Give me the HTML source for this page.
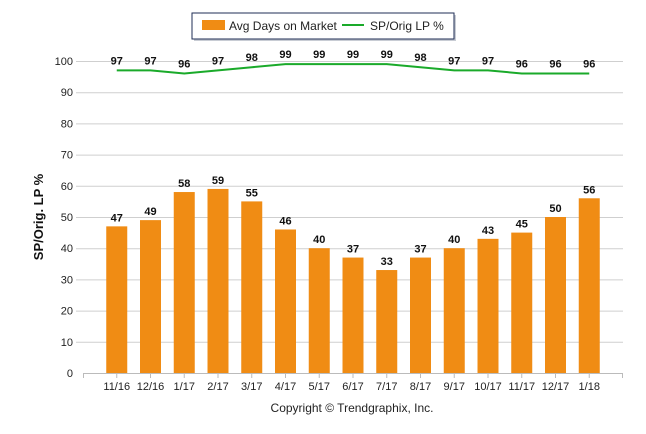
<!DOCTYPE html>
<html><head><meta charset="utf-8"><style>
html,body{margin:0;padding:0;background:#fff;}
svg{display:block;font-family:"Liberation Sans",sans-serif;}
</style></head><body>
<svg width="646" height="434" viewBox="0 0 646 434" xmlns="http://www.w3.org/2000/svg">
<rect x="194" y="15" width="262" height="26" fill="#c8ccd4"/>
<rect x="192" y="13" width="262" height="26" fill="#fff" stroke="#1f2e55" stroke-width="1"/>
<rect x="202" y="20" width="23" height="10" fill="#f08c14"/>
<text x="229" y="30" font-size="12" fill="#222">Avg Days on Market</text>
<line x1="342" y1="25" x2="364" y2="25" stroke="#1aaa2a" stroke-width="2"/>
<text x="370" y="30" font-size="12" fill="#222">SP/Orig LP %</text>
<g id="grid" stroke="#cfcfcf" stroke-width="1"></g>
<g id="ylab" font-size="11" fill="#222" text-anchor="end"></g>
<text transform="translate(43,217) rotate(-90)" font-size="13" font-weight="bold" text-anchor="middle" fill="#111">SP/Orig. LP %</text>
<g id="bars"></g>
<line x1="83" y1="373.5" x2="623" y2="373.5" stroke="#bbb"/>
<g id="xt" stroke="#bbb"></g>
<g id="xl" font-size="11" fill="#222" text-anchor="middle"></g>
<polyline id="ln" fill="none" stroke="#1aaa2a" stroke-width="2"/>
<g id="lnl" font-size="11" font-weight="bold" fill="#111" text-anchor="middle"></g>
<g id="bl" font-size="11" font-weight="bold" fill="#111" text-anchor="middle"></g>
<text x="352" y="412" font-size="12" fill="#222" text-anchor="middle">Copyright © Trendgraphix, Inc.</text>
<script>
var ns="http://www.w3.org/2000/svg";
function el(p,t,a,txt){var e=document.createElementNS(ns,t);for(var k in a)e.setAttribute(k,a[k]);if(txt!=null)e.textContent=txt;document.getElementById(p).appendChild(e);}
function Y(v){return 373-v*3.12;}
for(var v=10;v<=100;v+=10){el("grid","line",{x1:76,x2:623,y1:Y(v)+.5,y2:Y(v)+.5});}
for(var v=0;v<=100;v+=10){el("ylab","text",{x:73,y:Y(v)+4},v);}
var labs=["11/16","12/16","1/17","2/17","3/17","4/17","5/17","6/17","7/17","8/17","9/17","10/17","11/17","12/17","1/18"];
var bars=[47,49,58,59,55,46,40,37,33,37,40,43,45,50,56];
var ln=[97,97,96,97,98,99,99,99,99,98,97,97,96,96,96];
var pts=[];
el("xt","line",{x1:83.5,x2:83.5,y1:373,y2:378});
for(var i=0;i<15;i++){var c=83+33.75*(i+1);
el("bars","rect",{x:c-10.5,y:Y(bars[i]),width:21,height:bars[i]*3.12,fill:"#f08c14"});
el("xt","line",{x1:c,x2:c,y1:373,y2:378});
el("xl","text",{x:c,y:390},labs[i]);
el("bl","text",{x:c,y:Y(bars[i])-5},bars[i]);
pts.push(c+","+Y(ln[i]));
el("lnl","text",{x:c,y:Y(ln[i])-6},ln[i]);}
el("xt","line",{x1:622.5,x2:622.5,y1:373,y2:378});
document.getElementById("ln").setAttribute("points",pts.join(" "));
</script>
</svg>
</body></html>
